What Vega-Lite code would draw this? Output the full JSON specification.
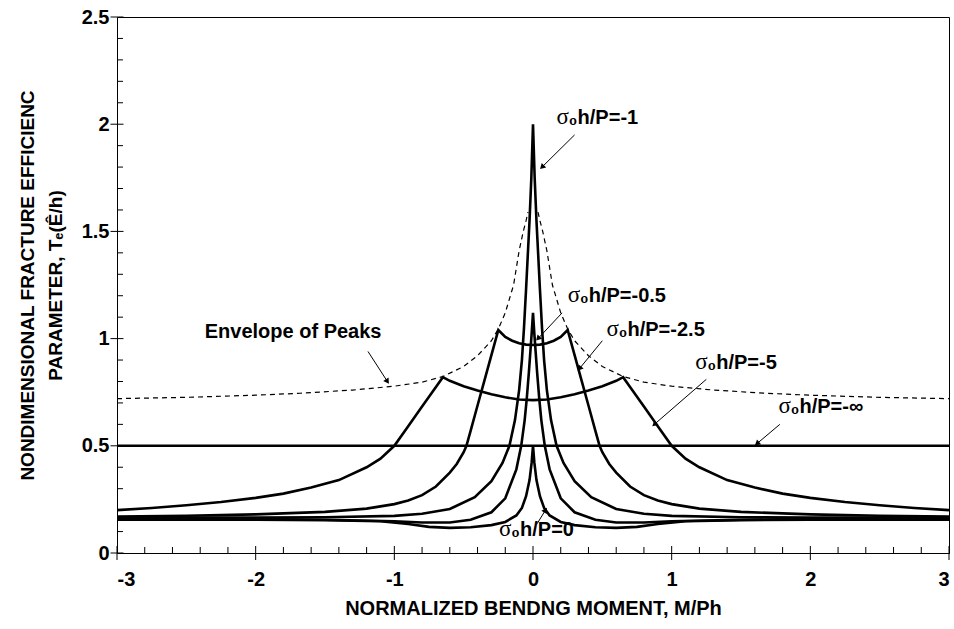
{
  "$schema": "https://vega.github.io/schema/vega-lite/v6.json",
  "width": 832,
  "height": 536,
  "autosize": "none",
  "padding": {"left": 117, "top": 17, "right": 5, "bottom": 76},
  "background": "white",
  "view": {"stroke": "black", "strokeWidth": 1},
  "config": {"font": "Liberation Sans"},
  "datasets": {
    "curves": [
      {"s": "inf", "m": -3, "v": 0.5}, {"s": "inf", "m": 3, "v": 0.5},
      {"s": "-5", "m": -3, "v": 0.2}, {"s": "-5", "m": -2.75, "v": 0.21}, {"s": "-5", "m": -2.5, "v": 0.223}, {"s": "-5", "m": -2.25, "v": 0.238}, {"s": "-5", "m": -2, "v": 0.257}, {"s": "-5", "m": -1.8, "v": 0.277}, {"s": "-5", "m": -1.6, "v": 0.305}, {"s": "-5", "m": -1.4, "v": 0.34}, {"s": "-5", "m": -1.2, "v": 0.4}, {"s": "-5", "m": -1.1, "v": 0.44}, {"s": "-5", "m": -1.0, "v": 0.5}, {"s": "-5", "m": -0.9, "v": 0.591}, {"s": "-5", "m": -0.8, "v": 0.683}, {"s": "-5", "m": -0.7, "v": 0.774}, {"s": "-5", "m": -0.65, "v": 0.82}, {"s": "-5", "m": -0.6, "v": 0.803}, {"s": "-5", "m": -0.5, "v": 0.778}, {"s": "-5", "m": -0.4, "v": 0.758}, {"s": "-5", "m": -0.3, "v": 0.74}, {"s": "-5", "m": -0.2, "v": 0.726}, {"s": "-5", "m": -0.1, "v": 0.716}, {"s": "-5", "m": 0, "v": 0.713},
      {"s": "-5", "m": 0.1, "v": 0.716}, {"s": "-5", "m": 0.2, "v": 0.726}, {"s": "-5", "m": 0.3, "v": 0.74}, {"s": "-5", "m": 0.4, "v": 0.758}, {"s": "-5", "m": 0.5, "v": 0.778}, {"s": "-5", "m": 0.6, "v": 0.803}, {"s": "-5", "m": 0.65, "v": 0.82}, {"s": "-5", "m": 0.7, "v": 0.774}, {"s": "-5", "m": 0.8, "v": 0.683}, {"s": "-5", "m": 0.9, "v": 0.591}, {"s": "-5", "m": 1.0, "v": 0.5}, {"s": "-5", "m": 1.1, "v": 0.44}, {"s": "-5", "m": 1.2, "v": 0.4}, {"s": "-5", "m": 1.4, "v": 0.34}, {"s": "-5", "m": 1.6, "v": 0.305}, {"s": "-5", "m": 1.8, "v": 0.277}, {"s": "-5", "m": 2, "v": 0.257}, {"s": "-5", "m": 2.25, "v": 0.238}, {"s": "-5", "m": 2.5, "v": 0.223}, {"s": "-5", "m": 2.75, "v": 0.21}, {"s": "-5", "m": 3, "v": 0.2},
      {"s": "-2.5", "m": -3, "v": 0.17}, {"s": "-2.5", "m": -2.5, "v": 0.174}, {"s": "-2.5", "m": -2, "v": 0.18}, {"s": "-2.5", "m": -1.5, "v": 0.192}, {"s": "-2.5", "m": -1.2, "v": 0.207}, {"s": "-2.5", "m": -1, "v": 0.228}, {"s": "-2.5", "m": -0.9, "v": 0.245}, {"s": "-2.5", "m": -0.8, "v": 0.27}, {"s": "-2.5", "m": -0.7, "v": 0.31}, {"s": "-2.5", "m": -0.6, "v": 0.375}, {"s": "-2.5", "m": -0.55, "v": 0.415}, {"s": "-2.5", "m": -0.5, "v": 0.47}, {"s": "-2.5", "m": -0.48, "v": 0.5}, {"s": "-2.5", "m": -0.45, "v": 0.57}, {"s": "-2.5", "m": -0.4, "v": 0.688}, {"s": "-2.5", "m": -0.35, "v": 0.805}, {"s": "-2.5", "m": -0.3, "v": 0.923}, {"s": "-2.5", "m": -0.25, "v": 1.04}, {"s": "-2.5", "m": -0.2, "v": 1.008}, {"s": "-2.5", "m": -0.15, "v": 0.99}, {"s": "-2.5", "m": -0.1, "v": 0.978}, {"s": "-2.5", "m": -0.05, "v": 0.972}, {"s": "-2.5", "m": 0, "v": 0.97},
      {"s": "-2.5", "m": 0.05, "v": 0.972}, {"s": "-2.5", "m": 0.1, "v": 0.978}, {"s": "-2.5", "m": 0.15, "v": 0.99}, {"s": "-2.5", "m": 0.2, "v": 1.008}, {"s": "-2.5", "m": 0.25, "v": 1.04}, {"s": "-2.5", "m": 0.3, "v": 0.923}, {"s": "-2.5", "m": 0.35, "v": 0.805}, {"s": "-2.5", "m": 0.4, "v": 0.688}, {"s": "-2.5", "m": 0.45, "v": 0.57}, {"s": "-2.5", "m": 0.48, "v": 0.5}, {"s": "-2.5", "m": 0.5, "v": 0.47}, {"s": "-2.5", "m": 0.55, "v": 0.415}, {"s": "-2.5", "m": 0.6, "v": 0.375}, {"s": "-2.5", "m": 0.7, "v": 0.31}, {"s": "-2.5", "m": 0.8, "v": 0.27}, {"s": "-2.5", "m": 0.9, "v": 0.245}, {"s": "-2.5", "m": 1, "v": 0.228}, {"s": "-2.5", "m": 1.2, "v": 0.207}, {"s": "-2.5", "m": 1.5, "v": 0.192}, {"s": "-2.5", "m": 2, "v": 0.18}, {"s": "-2.5", "m": 2.5, "v": 0.174}, {"s": "-2.5", "m": 3, "v": 0.17},
      {"s": "-1", "m": -3, "v": 0.165}, {"s": "-1", "m": -2, "v": 0.165}, {"s": "-1", "m": -1.5, "v": 0.167}, {"s": "-1", "m": -1, "v": 0.173}, {"s": "-1", "m": -0.8, "v": 0.183}, {"s": "-1", "m": -0.6, "v": 0.205}, {"s": "-1", "m": -0.42, "v": 0.26}, {"s": "-1", "m": -0.3, "v": 0.335}, {"s": "-1", "m": -0.22, "v": 0.42}, {"s": "-1", "m": -0.17, "v": 0.5}, {"s": "-1", "m": -0.13, "v": 0.62}, {"s": "-1", "m": -0.1, "v": 0.76}, {"s": "-1", "m": -0.08, "v": 0.9}, {"s": "-1", "m": -0.065, "v": 1.05}, {"s": "-1", "m": -0.05, "v": 1.23}, {"s": "-1", "m": -0.036, "v": 1.41}, {"s": "-1", "m": -0.025, "v": 1.55}, {"s": "-1", "m": -0.012, "v": 1.75}, {"s": "-1", "m": 0, "v": 2.0},
      {"s": "-1", "m": 0.012, "v": 1.75}, {"s": "-1", "m": 0.025, "v": 1.55}, {"s": "-1", "m": 0.036, "v": 1.41}, {"s": "-1", "m": 0.05, "v": 1.23}, {"s": "-1", "m": 0.065, "v": 1.05}, {"s": "-1", "m": 0.08, "v": 0.9}, {"s": "-1", "m": 0.1, "v": 0.76}, {"s": "-1", "m": 0.13, "v": 0.62}, {"s": "-1", "m": 0.17, "v": 0.5}, {"s": "-1", "m": 0.22, "v": 0.42}, {"s": "-1", "m": 0.3, "v": 0.335}, {"s": "-1", "m": 0.42, "v": 0.26}, {"s": "-1", "m": 0.6, "v": 0.205}, {"s": "-1", "m": 0.8, "v": 0.183}, {"s": "-1", "m": 1, "v": 0.173}, {"s": "-1", "m": 1.5, "v": 0.167}, {"s": "-1", "m": 2, "v": 0.165}, {"s": "-1", "m": 3, "v": 0.165},
      {"s": "-0.5", "m": -3, "v": 0.16}, {"s": "-0.5", "m": -2, "v": 0.158}, {"s": "-0.5", "m": -1.5, "v": 0.155}, {"s": "-0.5", "m": -1, "v": 0.148}, {"s": "-0.5", "m": -0.8, "v": 0.142}, {"s": "-0.5", "m": -0.6, "v": 0.142}, {"s": "-0.5", "m": -0.45, "v": 0.155}, {"s": "-0.5", "m": -0.3, "v": 0.19}, {"s": "-0.5", "m": -0.2, "v": 0.255}, {"s": "-0.5", "m": -0.12, "v": 0.39}, {"s": "-0.5", "m": -0.085, "v": 0.5}, {"s": "-0.5", "m": -0.06, "v": 0.62}, {"s": "-0.5", "m": -0.045, "v": 0.72}, {"s": "-0.5", "m": -0.03, "v": 0.84}, {"s": "-0.5", "m": -0.02, "v": 0.93}, {"s": "-0.5", "m": -0.01, "v": 1.02}, {"s": "-0.5", "m": 0, "v": 1.12},
      {"s": "-0.5", "m": 0.01, "v": 1.02}, {"s": "-0.5", "m": 0.02, "v": 0.93}, {"s": "-0.5", "m": 0.03, "v": 0.84}, {"s": "-0.5", "m": 0.045, "v": 0.72}, {"s": "-0.5", "m": 0.06, "v": 0.62}, {"s": "-0.5", "m": 0.085, "v": 0.5}, {"s": "-0.5", "m": 0.12, "v": 0.39}, {"s": "-0.5", "m": 0.2, "v": 0.255}, {"s": "-0.5", "m": 0.3, "v": 0.19}, {"s": "-0.5", "m": 0.45, "v": 0.155}, {"s": "-0.5", "m": 0.6, "v": 0.142}, {"s": "-0.5", "m": 0.8, "v": 0.142}, {"s": "-0.5", "m": 1, "v": 0.148}, {"s": "-0.5", "m": 1.5, "v": 0.155}, {"s": "-0.5", "m": 2, "v": 0.158}, {"s": "-0.5", "m": 3, "v": 0.16},
      {"s": "0", "m": -3, "v": 0.155}, {"s": "0", "m": -2, "v": 0.155}, {"s": "0", "m": -1.5, "v": 0.153}, {"s": "0", "m": -1.1, "v": 0.148}, {"s": "0", "m": -0.9, "v": 0.135}, {"s": "0", "m": -0.75, "v": 0.122}, {"s": "0", "m": -0.6, "v": 0.117}, {"s": "0", "m": -0.45, "v": 0.12}, {"s": "0", "m": -0.3, "v": 0.13}, {"s": "0", "m": -0.2, "v": 0.145}, {"s": "0", "m": -0.12, "v": 0.175}, {"s": "0", "m": -0.08, "v": 0.21}, {"s": "0", "m": -0.05, "v": 0.265}, {"s": "0", "m": -0.025, "v": 0.34}, {"s": "0", "m": -0.01, "v": 0.42}, {"s": "0", "m": 0, "v": 0.5},
      {"s": "0", "m": 0.01, "v": 0.42}, {"s": "0", "m": 0.025, "v": 0.34}, {"s": "0", "m": 0.05, "v": 0.265}, {"s": "0", "m": 0.08, "v": 0.21}, {"s": "0", "m": 0.12, "v": 0.175}, {"s": "0", "m": 0.2, "v": 0.145}, {"s": "0", "m": 0.3, "v": 0.13}, {"s": "0", "m": 0.45, "v": 0.12}, {"s": "0", "m": 0.6, "v": 0.117}, {"s": "0", "m": 0.75, "v": 0.122}, {"s": "0", "m": 0.9, "v": 0.135}, {"s": "0", "m": 1.1, "v": 0.148}, {"s": "0", "m": 1.5, "v": 0.153}, {"s": "0", "m": 2, "v": 0.155}, {"s": "0", "m": 3, "v": 0.155}
    ],
    "envelope": [
      {"side": "L", "m": -3, "v": 0.72}, {"side": "L", "m": -2.5, "v": 0.726}, {"side": "L", "m": -2, "v": 0.736}, {"side": "L", "m": -1.68, "v": 0.745}, {"side": "L", "m": -1.3, "v": 0.76}, {"side": "L", "m": -1, "v": 0.778}, {"side": "L", "m": -0.8, "v": 0.797}, {"side": "L", "m": -0.65, "v": 0.823}, {"side": "L", "m": -0.5, "v": 0.87}, {"side": "L", "m": -0.4, "v": 0.92}, {"side": "L", "m": -0.3, "v": 0.99}, {"side": "L", "m": -0.25, "v": 1.045}, {"side": "L", "m": -0.2, "v": 1.12}, {"side": "L", "m": -0.14, "v": 1.25}, {"side": "L", "m": -0.1, "v": 1.41}, {"side": "L", "m": -0.07, "v": 1.5}, {"side": "L", "m": -0.05, "v": 1.55}, {"side": "L", "m": -0.036, "v": 1.59},
      {"side": "R", "m": 0.036, "v": 1.59}, {"side": "R", "m": 0.05, "v": 1.55}, {"side": "R", "m": 0.07, "v": 1.5}, {"side": "R", "m": 0.1, "v": 1.41}, {"side": "R", "m": 0.14, "v": 1.25}, {"side": "R", "m": 0.2, "v": 1.12}, {"side": "R", "m": 0.25, "v": 1.045}, {"side": "R", "m": 0.3, "v": 0.99}, {"side": "R", "m": 0.4, "v": 0.92}, {"side": "R", "m": 0.5, "v": 0.87}, {"side": "R", "m": 0.65, "v": 0.823}, {"side": "R", "m": 0.8, "v": 0.797}, {"side": "R", "m": 1, "v": 0.778}, {"side": "R", "m": 1.3, "v": 0.76}, {"side": "R", "m": 1.68, "v": 0.745}, {"side": "R", "m": 2, "v": 0.736}, {"side": "R", "m": 2.5, "v": 0.726}, {"side": "R", "m": 3, "v": 0.72}
    ],
    "sigmalabels": [
      {"t": "₀h/P=-1", "m": 0.17, "v": 2.03},
      {"t": "₀h/P=-0.5", "m": 0.25, "v": 1.2},
      {"t": "₀h/P=-2.5", "m": 0.53, "v": 1.04},
      {"t": "₀h/P=-5", "m": 1.17, "v": 0.885},
      {"t": "₀h/P=-∞", "m": 1.77, "v": 0.68},
      {"t": "₀h/P=0", "m": -0.245, "v": 0.105}
    ],
    "notes": [
      {"t": "Envelope of Peaks", "m": -1.73, "v": 1.03}
    ],
    "arrows": [
      {"a": "k1", "m": 0.30, "v": 1.95, "m2": 0.065, "v2": 1.80},
      {"a": "k05", "m": 0.21, "v": 1.12, "m2": 0.036, "v2": 1.0},
      {"a": "k25", "m": 0.50, "v": 0.99, "m2": 0.335, "v2": 0.86},
      {"a": "k5", "m": 1.25, "v": 0.81, "m2": 0.875, "v2": 0.6},
      {"a": "kinf", "m": 1.78, "v": 0.6, "m2": 1.615, "v2": 0.51},
      {"a": "kenv", "m": -1.19, "v": 0.94, "m2": -1.05, "v2": 0.8},
      {"a": "k0", "m": 0.03, "v": 0.137, "m2": 0.09, "v2": 0.2}
    ],
    "yticks": [
      {"v": 0, "k": "major"}, {"v": 0.5, "k": "major"}, {"v": 1, "k": "major"}, {"v": 1.5, "k": "major"}, {"v": 2, "k": "major"}, {"v": 2.5, "k": "major"},
      {"v": 0.1, "k": "minor"}, {"v": 0.2, "k": "minor"}, {"v": 0.3, "k": "minor"}, {"v": 0.4, "k": "minor"}, {"v": 0.6, "k": "minor"}, {"v": 0.7, "k": "minor"}, {"v": 0.8, "k": "minor"}, {"v": 0.9, "k": "minor"}, {"v": 1.1, "k": "minor"}, {"v": 1.2, "k": "minor"}, {"v": 1.3, "k": "minor"}, {"v": 1.4, "k": "minor"}, {"v": 1.6, "k": "minor"}, {"v": 1.7, "k": "minor"}, {"v": 1.8, "k": "minor"}, {"v": 1.9, "k": "minor"}, {"v": 2.1, "k": "minor"}, {"v": 2.2, "k": "minor"}, {"v": 2.3, "k": "minor"}, {"v": 2.4, "k": "minor"}
    ],
    "xticks": [
      {"m": -3, "k": "major"}, {"m": -2, "k": "major"}, {"m": -1, "k": "major"}, {"m": 0, "k": "major"}, {"m": 1, "k": "major"}, {"m": 2, "k": "major"}, {"m": 3, "k": "major"},
      {"m": -2.8, "k": "minor"}, {"m": -2.6, "k": "minor"}, {"m": -2.4, "k": "minor"}, {"m": -2.2, "k": "minor"}, {"m": -1.8, "k": "minor"}, {"m": -1.6, "k": "minor"}, {"m": -1.4, "k": "minor"}, {"m": -1.2, "k": "minor"}, {"m": -0.8, "k": "minor"}, {"m": -0.6, "k": "minor"}, {"m": -0.4, "k": "minor"}, {"m": -0.2, "k": "minor"}, {"m": 0.2, "k": "minor"}, {"m": 0.4, "k": "minor"}, {"m": 0.6, "k": "minor"}, {"m": 0.8, "k": "minor"}, {"m": 1.2, "k": "minor"}, {"m": 1.4, "k": "minor"}, {"m": 1.6, "k": "minor"}, {"m": 1.8, "k": "minor"}, {"m": 2.2, "k": "minor"}, {"m": 2.4, "k": "minor"}, {"m": 2.6, "k": "minor"}, {"m": 2.8, "k": "minor"}
    ]
  },
  "layer": [
    {
      "data": {"name": "curves"},
      "mark": {"type": "line", "color": "black", "strokeWidth": 2.6, "clip": true},
      "encoding": {
        "x": {"field": "m", "type": "quantitative", "scale": {"domain": [-3, 3], "nice": false, "zero": false},
          "axis": {"orient": "bottom", "values": [-3, -2, -1, 0, 1, 2, 3], "labelExpr": "'' + datum.value", "grid": false, "ticks": false, "tickSize": 0, "domainColor": "black", "labelColor": "black", "labelFont": "Liberation Sans", "labelFontSize": 20, "labelFontWeight": "bold", "labelPadding": 16, "title": "NORMALIZED BENDNG MOMENT, M/Ph", "titleFont": "Liberation Sans", "titleFontSize": 20, "titleFontWeight": "bold", "titleColor": "black", "titlePadding": 9}},
        "y": {"field": "v", "type": "quantitative", "scale": {"domain": [0, 2.5], "nice": false, "zero": false},
          "axis": {"orient": "left", "values": [0, 0.5, 1, 1.5, 2, 2.5], "labelExpr": "'' + datum.value", "grid": false, "ticks": false, "tickSize": 0, "domainColor": "black", "labelColor": "black", "labelFont": "Liberation Sans", "labelFontSize": 20, "labelFontWeight": "bold", "labelPadding": 8, "title": ["NONDIMENSIONAL FRACTURE EFFICIENC", "PARAMETER, Tₑ(Ê/h)"], "titleFont": "Liberation Sans", "titleFontSize": 19, "titleFontWeight": "bold", "titleColor": "black", "titlePadding": 16, "titleLineHeight": 28}},
        "detail": {"field": "s"}
      }
    },
    {
      "data": {"name": "envelope"},
      "mark": {"type": "line", "color": "black", "strokeWidth": 1.2, "strokeDash": [5, 4]},
      "encoding": {
        "x": {"field": "m", "type": "quantitative"},
        "y": {"field": "v", "type": "quantitative"},
        "detail": {"field": "side"}
      }
    },
    {
      "data": {"name": "yticks"},
      "transform": [{"filter": "datum.k == 'major'"}],
      "mark": {"type": "tick", "orient": "horizontal", "color": "black", "opacity": 1, "thickness": 1, "size": 13},
      "encoding": {"x": {"datum": -3, "type": "quantitative"}, "y": {"field": "v", "type": "quantitative"}}
    },
    {
      "data": {"name": "yticks"},
      "transform": [{"filter": "datum.k == 'minor'"}],
      "mark": {"type": "tick", "orient": "horizontal", "color": "black", "opacity": 1, "thickness": 1, "size": 6, "xOffset": 3},
      "encoding": {"x": {"datum": -3, "type": "quantitative"}, "y": {"field": "v", "type": "quantitative"}}
    },
    {
      "data": {"name": "xticks"},
      "transform": [{"filter": "datum.k == 'major'"}],
      "mark": {"type": "tick", "orient": "vertical", "color": "black", "opacity": 1, "thickness": 1, "size": 14},
      "encoding": {"x": {"field": "m", "type": "quantitative"}, "y": {"datum": 0, "type": "quantitative"}}
    },
    {
      "data": {"name": "xticks"},
      "transform": [{"filter": "datum.k == 'minor'"}],
      "mark": {"type": "tick", "orient": "vertical", "color": "black", "opacity": 1, "thickness": 1, "size": 6, "yOffset": -3},
      "encoding": {"x": {"field": "m", "type": "quantitative"}, "y": {"datum": 0, "type": "quantitative"}}
    },
    {
      "data": {"name": "arrows"},
      "mark": {"type": "rule", "color": "black", "strokeWidth": 1},
      "encoding": {
        "x": {"field": "m", "type": "quantitative"},
        "y": {"field": "v", "type": "quantitative"},
        "x2": {"field": "m2"},
        "y2": {"field": "v2"}
      }
    },
    {"data": {"name": "arrows"}, "transform": [{"filter": "datum.a == 'k1'"}], "mark": {"type": "point", "shape": "triangle-up", "filled": true, "color": "black", "size": 40, "opacity": 1, "angle": 225}, "encoding": {"x": {"field": "m2", "type": "quantitative"}, "y": {"field": "v2", "type": "quantitative"}}},
    {"data": {"name": "arrows"}, "transform": [{"filter": "datum.a == 'k05'"}], "mark": {"type": "point", "shape": "triangle-up", "filled": true, "color": "black", "size": 40, "opacity": 1, "angle": 223}, "encoding": {"x": {"field": "m2", "type": "quantitative"}, "y": {"field": "v2", "type": "quantitative"}}},
    {"data": {"name": "arrows"}, "transform": [{"filter": "datum.a == 'k25'"}], "mark": {"type": "point", "shape": "triangle-up", "filled": true, "color": "black", "size": 40, "opacity": 1, "angle": 219}, "encoding": {"x": {"field": "m2", "type": "quantitative"}, "y": {"field": "v2", "type": "quantitative"}}},
    {"data": {"name": "arrows"}, "transform": [{"filter": "datum.a == 'k5'"}], "mark": {"type": "point", "shape": "triangle-up", "filled": true, "color": "black", "size": 40, "opacity": 1, "angle": 229}, "encoding": {"x": {"field": "m2", "type": "quantitative"}, "y": {"field": "v2", "type": "quantitative"}}},
    {"data": {"name": "arrows"}, "transform": [{"filter": "datum.a == 'kinf'"}], "mark": {"type": "point", "shape": "triangle-up", "filled": true, "color": "black", "size": 40, "opacity": 1, "angle": 230}, "encoding": {"x": {"field": "m2", "type": "quantitative"}, "y": {"field": "v2", "type": "quantitative"}}},
    {"data": {"name": "arrows"}, "transform": [{"filter": "datum.a == 'kenv'"}], "mark": {"type": "point", "shape": "triangle-up", "filled": true, "color": "black", "size": 40, "opacity": 1, "angle": 147}, "encoding": {"x": {"field": "m2", "type": "quantitative"}, "y": {"field": "v2", "type": "quantitative"}}},
    {"data": {"name": "arrows"}, "transform": [{"filter": "datum.a == 'k0'"}], "mark": {"type": "point", "shape": "triangle-up", "filled": true, "color": "black", "size": 40, "opacity": 1, "angle": 32}, "encoding": {"x": {"field": "m2", "type": "quantitative"}, "y": {"field": "v2", "type": "quantitative"}}},
    {
      "data": {"name": "sigmalabels"},
      "mark": {"type": "text", "color": "black", "font": "Liberation Serif", "fontSize": 23, "fontWeight": "normal", "align": "left", "baseline": "middle", "dy": -1},
      "encoding": {
        "x": {"field": "m", "type": "quantitative"},
        "y": {"field": "v", "type": "quantitative"},
        "text": {"value": "σ"}
      }
    },
    {
      "data": {"name": "sigmalabels"},
      "mark": {"type": "text", "color": "black", "font": "Liberation Sans", "fontSize": 20, "fontWeight": "bold", "align": "left", "baseline": "middle", "dx": 12},
      "encoding": {
        "x": {"field": "m", "type": "quantitative"},
        "y": {"field": "v", "type": "quantitative"},
        "text": {"field": "t"}
      }
    },
    {
      "data": {"name": "notes"},
      "mark": {"type": "text", "color": "black", "font": "Liberation Sans", "fontSize": 20, "fontWeight": "bold", "align": "center", "baseline": "middle"},
      "encoding": {
        "x": {"field": "m", "type": "quantitative"},
        "y": {"field": "v", "type": "quantitative"},
        "text": {"field": "t"}
      }
    }
  ]
}
